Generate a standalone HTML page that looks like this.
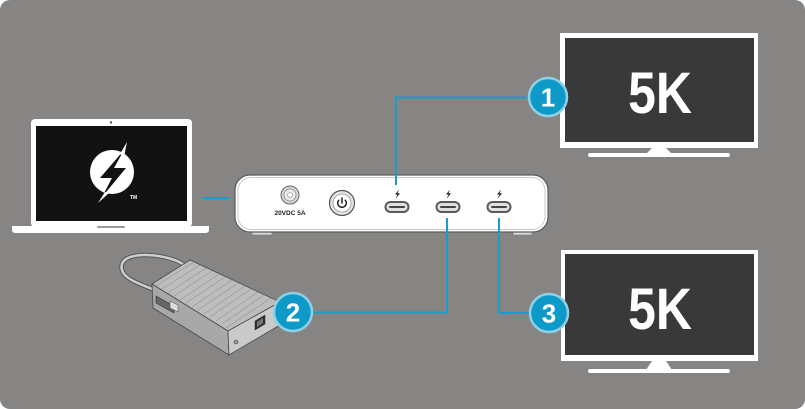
<!DOCTYPE html>
<html><head><meta charset="utf-8"><style>
html,body{margin:0;padding:0;background:#fff;}
svg{display:block;}
</style></head><body>
<svg width="805" height="409" viewBox="0 0 805 409" xmlns="http://www.w3.org/2000/svg">
<rect x="0" y="0" width="805" height="409" rx="10" fill="#878583"/>

<!-- Laptop -->
<rect x="31" y="119" width="161" height="108" rx="4" fill="#fff"/>
<rect x="36" y="126" width="151" height="95" fill="#121212"/>
<circle cx="111" cy="122.5" r="1.2" fill="#555"/>
<path d="M12 226 H209 V230 Q209 233 205 233 H16 Q12 233 12 230 Z" fill="#fff"/>
<rect x="97" y="226" width="28" height="2" rx="1" fill="#9a9a9a"/>
<!-- Thunderbolt logo -->
<circle cx="112" cy="172" r="22" fill="#fff"/>
<polygon points="124,150 100,178 112,178 102,197 126,168 114,168" fill="#121212"/>
<polygon points="120,154 127,142 124,157" fill="#fff"/>
<polygon points="105,192 98,203 109,193" fill="#fff"/>
<text x="130" y="199" font-family="Liberation Sans, sans-serif" font-weight="bold" font-size="5" fill="#fff">TM</text>

<!-- laptop-dock line -->
<line x1="202" y1="198" x2="230" y2="198" stroke="#1a9dcc" stroke-width="2"/>

<!-- Dock -->
<rect x="252" y="230" width="20" height="5" fill="#d8d8d8" stroke="#777" stroke-width="0.6"/>
<rect x="513" y="230" width="19" height="5" fill="#d8d8d8" stroke="#777" stroke-width="0.6"/>
<rect x="235" y="175" width="313" height="57" rx="15" fill="#fff" stroke="#5a5a5a" stroke-width="1.2"/>
<rect x="238" y="177.5" width="307" height="52" rx="13" fill="none" stroke="#c8c8c8" stroke-width="1"/>
<!-- DC jack -->
<circle cx="290" cy="195" r="9" fill="#d6d6d6" stroke="#666" stroke-width="1"/>
<circle cx="290" cy="195" r="6" fill="#eee" stroke="#888" stroke-width="0.8"/>
<circle cx="290" cy="195" r="2.5" fill="#fff" stroke="#888" stroke-width="0.6"/>
<text x="290" y="215" text-anchor="middle" font-family="Liberation Sans, sans-serif" font-weight="bold" font-size="6.5" fill="#222">20VDC 5A</text>
<!-- Power button -->
<circle cx="342" cy="203" r="12.5" fill="#e4e4e4" stroke="#555" stroke-width="1.2"/>
<circle cx="342" cy="203" r="9" fill="#fff" stroke="#999" stroke-width="0.8"/>
<path d="M338.8 200.2 A4.3 4.3 0 1 0 345.2 200.2" fill="none" stroke="#111" stroke-width="1.4" stroke-linecap="round"/>
<line x1="342" y1="198" x2="342" y2="203" stroke="#111" stroke-width="1.4" stroke-linecap="round"/>
<!-- Ports -->
<g>
<rect x="384.5" y="201" width="25" height="12" rx="6" fill="#5a5a5a"/>
<rect x="386.5" y="203" width="21" height="8" rx="4" fill="#e0e0e0"/>
<rect x="389" y="206" width="16" height="2" rx="1" fill="#444"/>
<rect x="435.5" y="201" width="25" height="12" rx="6" fill="#5a5a5a"/>
<rect x="437.5" y="203" width="21" height="8" rx="4" fill="#e0e0e0"/>
<rect x="440" y="206" width="16" height="2" rx="1" fill="#444"/>
<rect x="486.5" y="201" width="25" height="12" rx="6" fill="#5a5a5a"/>
<rect x="488.5" y="203" width="21" height="8" rx="4" fill="#e0e0e0"/>
<rect x="491" y="206" width="16" height="2" rx="1" fill="#444"/>
</g>
<!-- small bolts -->
<g fill="#222">
<polygon points="399,189.5 395,194.5 397.5,194.5 395.5,199 400,193.3 397.5,193.3"/>
<polygon points="450,189.5 446,194.5 448.5,194.5 446.5,199 451,193.3 448.5,193.3"/>
<polygon points="501,189.5 497,194.5 499.5,194.5 497.5,199 502,193.3 499.5,193.3"/>
</g>

<!-- Power adapter -->
<path d="M184 265 C170 254 126 250 122 264 C118 278 140 284 160 292" fill="none" stroke="#555" stroke-width="4.5" stroke-linecap="round"/>
<path d="M184 265 C170 254 126 250 122 264 C118 278 140 284 160 292" fill="none" stroke="#cfcfcf" stroke-width="2.5" stroke-linecap="round"/>
<polygon points="152,284 190,260 280,302 228,331" fill="#bdbdbd" stroke="#4a4a4a" stroke-width="0.8"/>
<g stroke="#959595" stroke-width="0.6">
<line x1="156" y1="286" x2="194" y2="262"/>
<line x1="162" y1="289" x2="200" y2="265"/>
<line x1="168" y1="293" x2="206" y2="268"/>
<line x1="174" y1="296" x2="212" y2="271"/>
<line x1="180" y1="300" x2="219" y2="274"/>
<line x1="186" y1="303" x2="225" y2="277"/>
<line x1="192" y1="307" x2="232" y2="280"/>
<line x1="198" y1="310" x2="238" y2="283"/>
<line x1="204" y1="314" x2="245" y2="286"/>
<line x1="210" y1="317" x2="251" y2="289"/>
<line x1="216" y1="321" x2="258" y2="292"/>
<line x1="222" y1="324" x2="264" y2="295"/>
<line x1="226" y1="328" x2="271" y2="298"/>
</g>
<polygon points="152,284 228,331 229,355 153,308" fill="#a8a8a8" stroke="#4a4a4a" stroke-width="0.8"/>
<polygon points="228,331 280,302 280,325 229,355" fill="#cacaca" stroke="#4a4a4a" stroke-width="0.8"/>
<polygon points="156,296 174,306 174,313 156,303" fill="#666" stroke="#333" stroke-width="0.6"/>
<polygon points="170,301 178,305 178,312 170,308" fill="#ddd" stroke="#444" stroke-width="0.5"/>
<polygon points="255,321 265,315 265,324 255,330" fill="#333" stroke="#222" stroke-width="0.5"/>
<polygon points="257,322 263,318 263,323 257,327" fill="#777"/>
<circle cx="236" cy="342" r="2" fill="#999" stroke="#444" stroke-width="0.6"/>

<!-- Monitor 1 -->
<rect x="560" y="33" width="198" height="115" fill="#fff"/>
<rect x="565" y="38" width="189" height="104" fill="#393939"/>
<polygon points="652,148 666,148 672,154 646,154" fill="#fff"/>
<rect x="588" y="153" width="142" height="4" rx="2" fill="#fff"/>
<text x="660" y="113" text-anchor="middle" font-family="Liberation Sans, sans-serif" font-weight="bold" font-size="58" fill="#fff" transform="translate(660 0) scale(0.86 1) translate(-660 0)">5K</text>

<!-- Monitor 2 -->
<rect x="561" y="250" width="197" height="111" fill="#fff"/>
<rect x="565" y="254" width="189" height="101" fill="#393939"/>
<polygon points="652,361 666,361 672,370 646,370" fill="#fff"/>
<rect x="588" y="369" width="142" height="4" rx="2" fill="#fff"/>
<text x="660" y="329" text-anchor="middle" font-family="Liberation Sans, sans-serif" font-weight="bold" font-size="58" fill="#fff" transform="translate(660 0) scale(0.86 1) translate(-660 0)">5K</text>

<!-- Connector lines -->
<g fill="none" stroke="#1a9dcc" stroke-width="2">
<polyline points="548,97.5 396,97.5 396,185"/>
<polyline points="447,218 447,312.5 293,312.5"/>
<polyline points="499,218 499,313 549,313"/>
</g>

<!-- Badges -->
<g font-family="Liberation Sans, sans-serif" font-weight="bold" font-size="26" fill="#fff" text-anchor="middle">
<circle cx="548" cy="97" r="19" fill="#0e9ac8" stroke="#8fd0e6" stroke-width="2.5"/>
<text x="548" y="106.5">1</text>
<circle cx="293" cy="312" r="19" fill="#0e9ac8" stroke="#8fd0e6" stroke-width="2.5"/>
<text x="293" y="321.5">2</text>
<circle cx="549" cy="313" r="19" fill="#0e9ac8" stroke="#8fd0e6" stroke-width="2.5"/>
<text x="549" y="322.5">3</text>
</g>
</svg>
</body></html>
